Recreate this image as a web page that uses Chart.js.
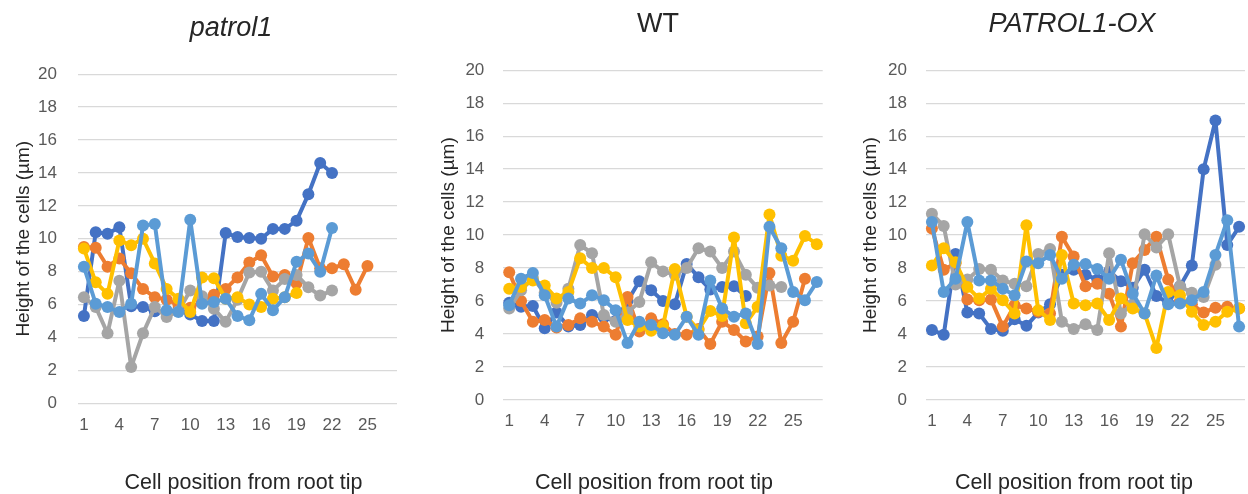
<!DOCTYPE html>
<html><head><meta charset="utf-8">
<script src="https://cdn.jsdelivr.net/npm/chart.js@4.4.1/dist/chart.umd.min.js"></script>
<style>
body{margin:0;background:#fff;width:1248px;height:494px;overflow:hidden;position:relative}
canvas{position:absolute;top:0}
.xt{position:absolute;top:469px;height:26px;line-height:26px;width:400px;text-align:center;
    font-family:'Liberation Sans', Arial, sans-serif;font-size:21.5px;color:#262626;white-space:nowrap}
</style></head>
<body>
<canvas id="c1" width="462" height="494" style="left:0px"></canvas>
<canvas id="c2" width="484" height="494" style="left:416px"></canvas>
<canvas id="c3" width="480" height="494" style="left:832px"></canvas>
<div class="xt" id="xt1" style="left:43.5px"></div>
<div class="xt" id="xt2" style="left:454px"></div>
<div class="xt" id="xt3" style="left:874px"></div>
<script>
// ---- data ----
const categories = ['1','2','3','4','5','6','7','8','9','10','11','12','13','14','15','16','17','18','19','20','21','22','23','24','25','26','27'];
const xTickLabels = ['1','4','7','10','13','16','19','22','25'];
const yMin = 0, yMax = 20, yStep = 2;

const patrol1_s1 = [5.3,10.4,10.3,10.7,5.9,5.85,5.6,5.5,5.7,5.4,5.0,5.0,10.35,10.1,10.05,10.0,10.6,10.6,11.1,12.7,14.6,14.0];
const patrol1_s2 = [9.5,9.45,8.3,8.8,7.9,6.95,6.45,6.3,6.0,5.8,6.2,6.6,6.95,7.65,8.55,9.0,7.7,7.8,7.3,10.05,8.2,8.2,8.45,6.9,8.35];
const patrol1_s3 = [6.45,5.85,4.25,7.45,2.2,4.25,5.85,5.25,5.6,6.85,6.5,5.75,4.95,6.3,7.95,8.0,6.85,7.55,7.8,7.05,6.55,6.85];
const patrol1_s4 = [9.4,7.35,6.65,9.9,9.6,10.0,8.5,6.95,6.35,5.55,7.65,7.6,6.35,6.45,6.0,5.85,6.35,6.45,6.7];
const patrol1_s5 = [8.3,6.05,5.85,5.55,6.05,10.8,10.9,5.65,5.55,11.15,6.05,6.15,6.35,5.3,5.05,6.65,5.65,6.45,8.6,9.1,8.0,10.65];

const wt_s1 = [5.9,5.65,5.7,4.35,5.3,4.45,4.55,5.15,5.0,4.8,6.0,7.2,6.65,6.0,5.8,8.25,7.45,6.7,6.85,6.9,6.3];
const wt_s2 = [7.75,6.0,4.75,4.85,4.4,4.55,4.95,4.75,4.45,3.95,6.25,4.15,4.95,4.6,4.0,3.95,4.3,3.4,4.75,4.25,3.55,3.85,7.7,3.45,4.75,7.35];
const wt_s3 = [5.55,6.65,7.4,6.5,5.9,6.75,9.4,8.9,5.15,4.75,5.3,5.95,8.35,7.8,7.6,8.0,9.2,9.0,8.0,9.0,7.6,6.8,6.95,6.85];
const wt_s4 = [6.75,6.85,7.25,6.95,6.15,6.55,8.6,8.0,8.0,7.45,4.85,4.45,4.2,4.5,7.95,5.05,4.25,5.4,5.1,9.85,4.65,5.65,11.25,8.75,8.45,9.95,9.45];
const wt_s5 = [5.75,7.35,7.7,6.35,4.45,6.15,5.85,6.35,6.05,5.45,3.45,4.75,4.55,4.05,3.95,5.05,3.95,7.25,5.55,5.05,5.25,3.4,10.5,9.2,6.55,6.05,7.15];

const ox_s1 = [4.25,3.95,8.85,5.3,5.25,4.3,4.2,4.9,4.5,5.3,5.8,7.6,7.9,7.6,7.3,7.8,7.2,6.8,7.9,6.3,5.9,6.9,8.15,14.0,16.95,9.4,10.5];
const ox_s2 = [10.4,7.9,8.3,6.1,6.05,6.1,4.45,5.75,5.55,5.35,5.25,9.9,8.7,6.9,7.05,6.45,4.45,8.3,9.1,9.9,7.3,6.0,5.8,5.3,5.6,5.65,5.55];
const ox_s3 = [11.3,10.55,7.0,7.3,7.95,7.9,7.25,7.05,6.9,8.85,9.15,4.75,4.3,4.6,4.25,8.9,5.25,5.8,10.05,9.25,10.05,6.9,6.5,6.25,8.2];
const ox_s4 = [8.15,9.2,8.35,6.85,6.15,6.75,6.05,5.25,10.6,5.45,4.85,8.8,5.85,5.75,5.85,4.85,6.15,5.55,5.25,3.15,6.55,6.35,5.35,4.55,4.75,5.35,5.55];
const ox_s5 = [10.8,6.55,7.35,10.8,7.25,7.25,6.75,6.35,8.4,8.3,8.8,7.35,8.2,8.25,7.95,7.35,8.5,6.45,5.25,7.55,5.8,5.85,6.05,6.55,8.8,10.9,4.45];

const titles = ['patrol1','WT','PATROL1-OX'];
const xTitle = 'Cell position from root tip';
const yTitle = 'Height of the cells (\u00b5m)';

// ---- styles ----
const seriesColors = ['#4472C4','#ED7D31','#A5A5A5','#FFC000','#5B9BD5'];
const FONT = "'Liberation Sans', Arial, sans-serif";

['xt1','xt2','xt3'].forEach(id => { document.getElementById(id).textContent = xTitle; });

function makeChart(id, titleText, italic, seriesList, g) {
  new Chart(document.getElementById(id), {
    type: 'line',
    data: {
      labels: categories,
      datasets: seriesList.map((vals, i) => ({
        label: 'Series ' + (i + 1),
        data: vals,
        yAxisID: 'y',
        borderColor: seriesColors[i],
        backgroundColor: seriesColors[i],
        pointBackgroundColor: seriesColors[i],
        borderWidth: 4,
        borderJoinStyle: 'round',
        borderCapStyle: 'round',
        pointRadius: 6,
        pointHoverRadius: 6,
        pointBorderWidth: 0,
        tension: 0,
        fill: false,
        order: 4 - i
      }))
    },
    options: {
      responsive: false,
      animation: false,
      events: [],
      layout: { padding: 0 },
      plugins: {
        legend: { display: false },
        tooltip: { enabled: false },
        title: {
          display: true, text: titleText, color: '#262626',
          font: { family: FONT, size: 27, style: italic ? 'italic' : 'normal', weight: 'normal', lineHeight: 1.2 },
          padding: { top: g.tt, bottom: g.tb }
        }
      },
      scales: {
        x: {
          type: 'category', offset: true,
          grid: { display: false, drawTicks: false },
          border: { display: false },
          ticks: {
            autoSkip: false, maxRotation: 0, minRotation: 0, padding: g.xtp,
            color: '#595959', font: { family: FONT, size: 17 },
            callback: (v, i) => xTickLabels.includes(categories[i]) ? categories[i] : ''
          },
          title: { display: false },
          afterFit: (s) => { s.height = g.xh; }
        },
        y: {
          position: 'left',
          min: yMin, max: yMax,
          ticks: { stepSize: yStep, padding: g.ytp, color: '#595959', font: { family: FONT, size: 17 } },
          grid: { color: '#D9D9D9', lineWidth: 1.3, drawTicks: false },
          border: { display: false },
          title: { display: true, text: yTitle, color: '#262626', font: { family: FONT, size: 19, lineHeight: 1.2 }, padding: { top: g.yt, bottom: 0 } },
          afterFit: (s) => { s.width = g.yw; }
        },
        yRight: {
          position: 'right', display: true,
          grid: { display: false, drawTicks: false },
          border: { display: false },
          ticks: { display: false },
          afterFit: (s) => { s.width = g.y2w; }
        }
      }
    }
  });
}

makeChart('c1', titles[0], true, [patrol1_s1, patrol1_s2, patrol1_s3, patrol1_s4, patrol1_s5],
  { yw: 78, y2w: 65, xh: 90.7, tt: 12.6, tb: 29.2, ytp: 21, xtp: 11.5, yt: 12 });
makeChart('c2', titles[1], false, [wt_s1, wt_s2, wt_s3, wt_s4, wt_s5],
  { yw: 87.3, y2w: 77.3, xh: 94, tt: 8.4, tb: 29.4, ytp: 19, xtp: 10.8, yt: 21.6 });
makeChart('c3', titles[2], true, [ox_s1, ox_s2, ox_s3, ox_s4, ox_s5],
  { yw: 94, y2w: 67, xh: 94, tt: 8.6, tb: 29.2, ytp: 19, xtp: 10.8, yt: 27.6 });
</script>
</body></html>
